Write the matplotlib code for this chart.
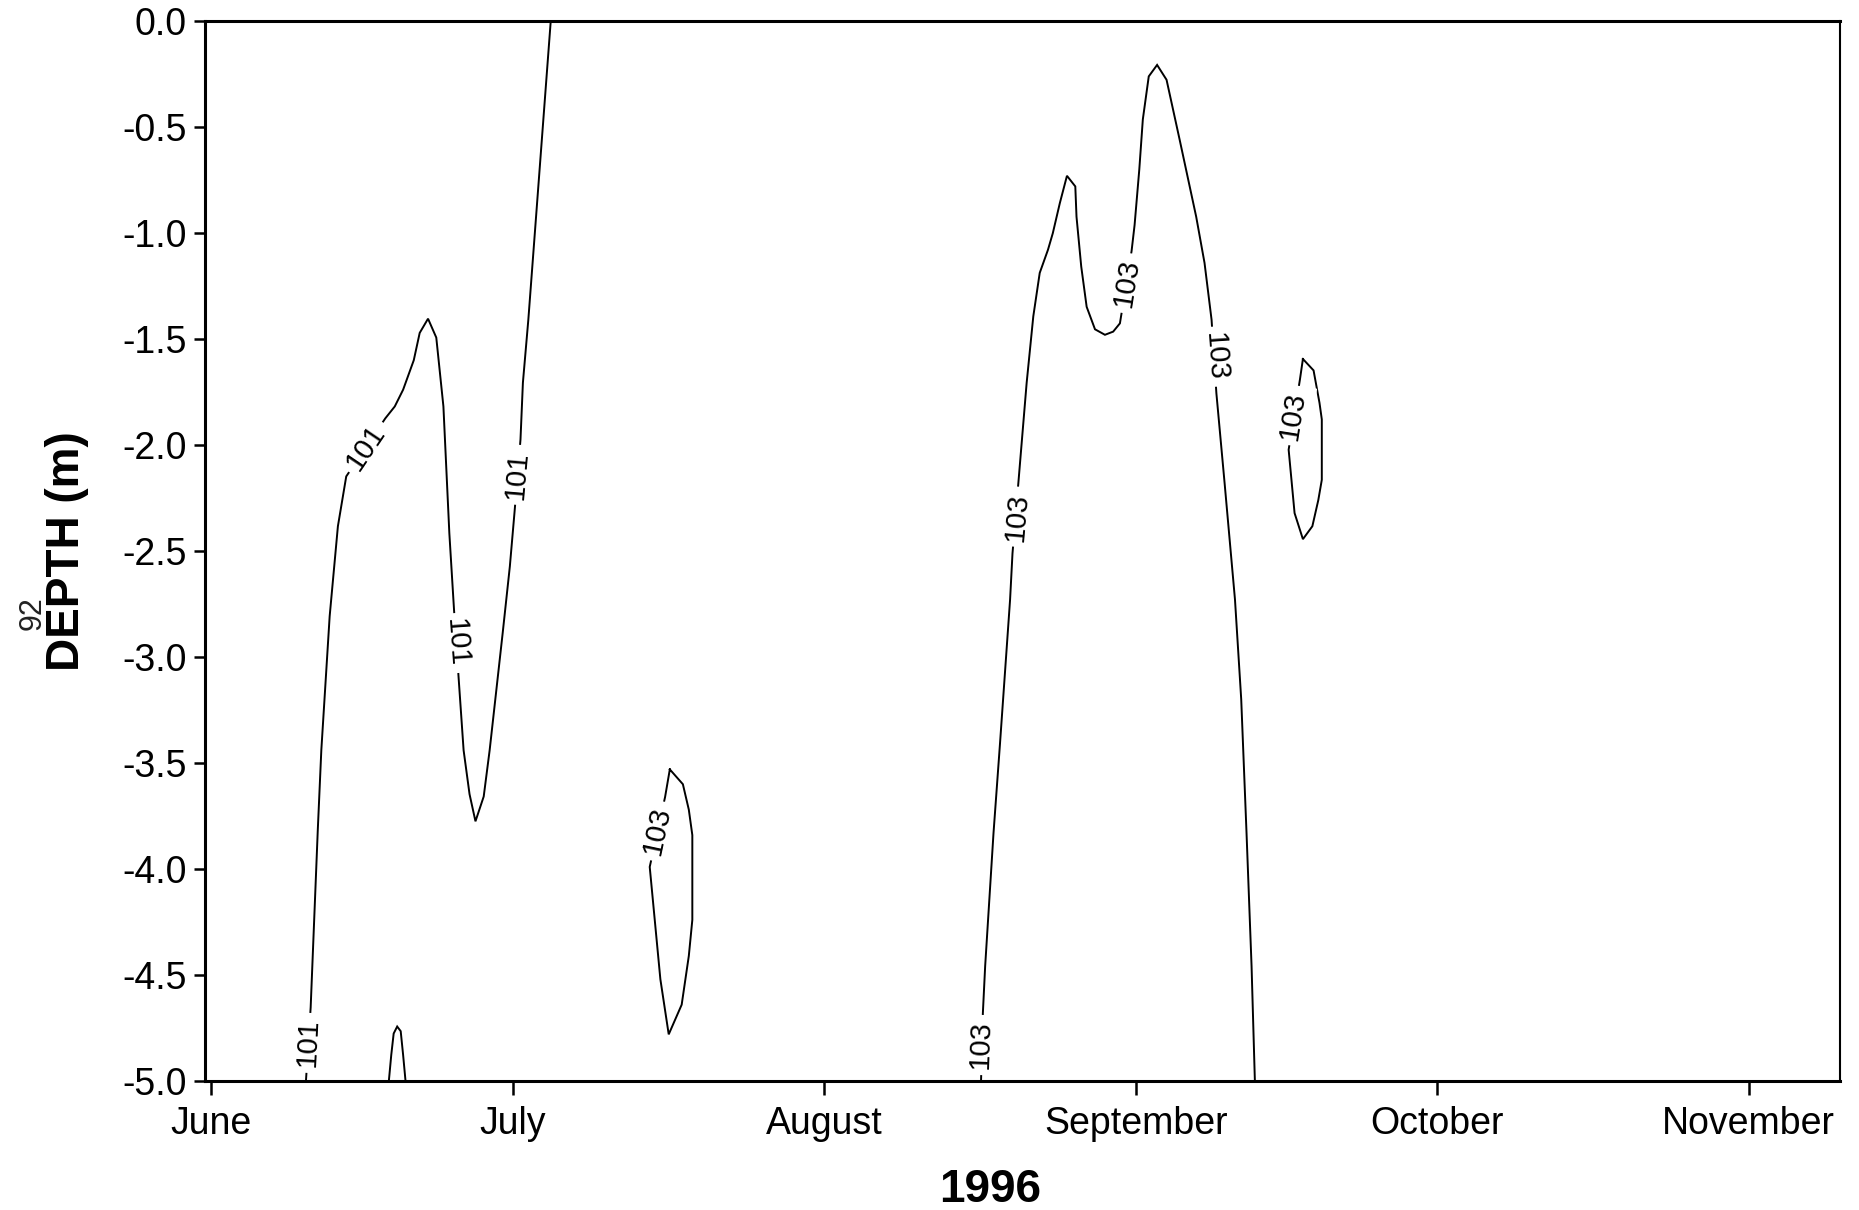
import matplotlib
matplotlib.use("Agg")
import matplotlib.pyplot as plt

plt.rcParams['font.family'] = ['Liberation Sans', 'DejaVu Sans']

# ---- data (x = days since 1 June 1996, y = depth in m) ----
month_days = [0, 30, 61, 92, 122, 153]
month_labels = ["June", "July", "August", "September", "October", "November"]
y_ticks = [0.0, -0.5, -1.0, -1.5, -2.0, -2.5, -3.0, -3.5, -4.0, -4.5, -5.0]

# 101 contour, early summer (bottom -> peak -> dip -> surface)
c101a_day = [9.44, 9.91, 10.62, 10.97, 11.80, 12.62, 13.45, 17.34, 18.28, 19.11,
             20.17, 20.76, 21.59, 22.41, 23.12, 23.71, 24.18, 24.65, 25.13, 25.72,
             26.31, 27.13, 27.72, 29.02, 29.73, 30.20, 30.79, 31.03, 31.57, 33.80]
c101a_depth = [-5.0, -4.653, -3.814, -3.440, -2.808, -2.383, -2.148, -1.874, -1.818, -1.739,
               -1.600, -1.471, -1.404, -1.493, -1.818, -2.416, -2.780, -3.110, -3.440, -3.647,
               -3.775, -3.658, -3.440, -2.886, -2.573, -2.315, -1.974, -1.706, -1.409, 0.0]

# small 101 bump at the bottom
c101b_day = [17.69, 17.93, 18.17, 18.52, 18.87, 19.11, 19.35]
c101b_depth = [-5.0, -4.877, -4.776, -4.743, -4.765, -4.877, -5.0]

# closed 103 loop, mid July
c103a_day = [45.65, 46.95, 47.54, 47.89, 47.89, 47.54, 46.83, 45.54, 44.71, 43.65, 45.18, 45.65]
c103a_depth = [-3.53, -3.60, -3.72, -3.84, -4.24, -4.41, -4.64, -4.78, -4.52, -3.99, -3.66, -3.53]

# big 103 contour, late August - mid September
c103b_day = [76.62, 76.80, 77.03, 77.86, 78.51, 79.51, 79.75, 80.33, 81.16, 81.82,
             82.46, 83.28, 83.76, 84.46, 85.17, 86.00, 86.12, 86.59, 87.13, 87.96,
             88.95, 89.77, 90.44, 91.60, 91.90, 92.37, 92.72, 93.31, 94.14, 95.08,
             96.38, 98.03, 98.86, 99.56, 100.04, 100.86, 101.89, 102.51, 103.04, 103.54, 103.87]
c103b_depth = [-5.0, -4.681, -4.458, -3.831, -3.406, -2.729, -2.511, -2.181, -1.706, -1.393,
               -1.188, -1.079, -1.001, -0.859, -0.730, -0.780, -0.923, -1.158, -1.348, -1.454,
               -1.480, -1.465, -1.426, -1.085, -0.962, -0.699, -0.464, -0.261, -0.207, -0.277,
               -0.559, -0.923, -1.141, -1.409, -1.756, -2.181, -2.729, -3.199, -3.831, -4.458, -5.0]

# closed 103 loop, late September
c103c_day = [108.65, 109.71, 110.30, 110.53, 110.53, 110.18, 109.59, 108.65, 107.82, 107.23, 108.35, 108.65]
c103c_depth = [-1.594, -1.648, -1.801, -1.879, -2.164, -2.260, -2.383, -2.444, -2.321, -2.022, -1.692, -1.594]

# contour labels: text, day, depth, rotation
label_text = ["101", "101", "101", "101", "103", "103", "103", "103", "103", "103"]
label_day = [9.6, 15.40, 24.42, 30.41, 44.36, 76.56, 80.16, 91.07, 99.92, 107.65]
label_depth = [-4.82, -2.01, -2.934, -2.14, -3.82, -4.83, -2.338, -1.236, -1.583, -1.86]
label_rot = [87, 56, -86, 85, 78, 88, 85, 81, -86, 81]

# ---- figure ----
fig = plt.figure(figsize=(18.59, 12.10), dpi=100)
ax = fig.add_axes([0.1103, 0.1066, 0.8795, 0.876])

lines = [(c101a_day, c101a_depth), (c101b_day, c101b_depth), (c103a_day, c103a_depth),
         (c103b_day, c103b_depth), (c103c_day, c103c_depth)]
for xs, ys in lines:
    ax.plot(xs, ys, color="black", lw=1.4, zorder=2, solid_joinstyle="miter")

for t, x, y, r in zip(label_text, label_day, label_depth, label_rot):
    ax.text(x, y, t, rotation=r, rotation_mode="anchor", ha="center", va="center",
            fontsize=21, color="black", zorder=3,
            bbox=dict(boxstyle="square,pad=0.2", fc="white", ec="none"))

ax.set_xlim(-0.6, 162.1)
ax.set_ylim(-5.0, 0.0)
ax.set_xticks(month_days)
ax.set_xticklabels(month_labels)
ax.set_yticks(y_ticks)
ax.set_yticklabels([f"{v:.1f}" for v in y_ticks])
ax.tick_params(axis="x", direction="out", length=10, width=1.8, pad=8, labelsize=27)
ax.tick_params(axis="y", direction="out", length=8, width=1.8, pad=5, labelsize=27)

for s in ["left", "bottom", "top"]:
    ax.spines[s].set_linewidth(2.2)
ax.spines["right"].set_linewidth(1.5)

ax.set_ylabel("DEPTH (m)", fontsize=33, fontweight="bold")
ax.yaxis.set_label_coords(-0.071, 0.5)
ax.set_xlabel("1996", fontsize=33, fontweight="bold")
ax.xaxis.set_label_coords(0.48, -0.082)

fig.text(0.0175, 0.493, "92", rotation=90, ha="center", va="center", fontsize=22, color="#222222")

fig.savefig("out.png", dpi=100)
